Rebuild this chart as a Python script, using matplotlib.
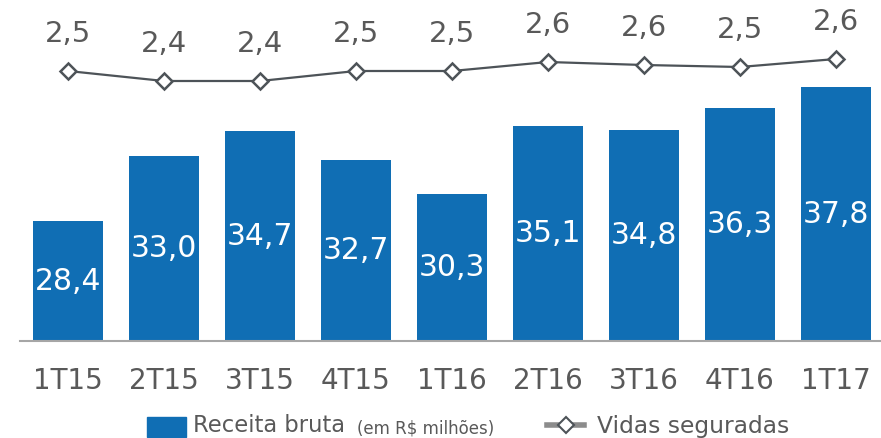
import matplotlib.pyplot as plt
import numpy as np
from matplotlib.patches import Rectangle
from matplotlib.lines import Line2D

# data
periods = ["1T15", "2T15", "3T15", "4T15", "1T16", "2T16", "3T16", "4T16", "1T17"]
receita = [28.4, 33.0, 34.7, 32.7, 30.3, 35.1, 34.8, 36.3, 37.8]
vidas = [2.50, 2.40, 2.40, 2.50, 2.50, 2.59, 2.56, 2.54, 2.62]

blue = "#106eb4"
grey = "#4d5358"
txt = "#595959"

plt.rcParams["font.family"] = ["DejaVu Sans"]

fig = plt.figure(figsize=(8.81, 4.38), dpi=100)
ax = fig.add_axes([20 / 881, 97 / 438, 861 / 881, 341 / 438])
x = np.arange(len(periods))

ax.bar(x, receita, width=0.73, color=blue, zorder=2)
for xi, v in zip(x, receita):
    ax.text(xi, 20 + (v - 20) / 2, f"{v:.1f}".replace(".", ","), ha="center", va="center",
            color="white", fontsize=21.5)

ax.set_xlim(-0.5, 8.47)
ax.set_ylim(20, 43.9)
ax.set_yticks([])
ax.set_xticks(x)
ax.set_xticklabels(periods, fontsize=20, color=txt)
ax.tick_params(axis="x", length=0, pad=19)
for s in ["top", "left", "right"]:
    ax.spines[s].set_visible(False)
ax.spines["bottom"].set_color("#a6a6a6")
ax.spines["bottom"].set_linewidth(1.5)
ax.patch.set_alpha(0)

ax2 = ax.twinx()
ax2.plot(x, vidas, color=grey, lw=1.6, marker="D", markersize=8, markerfacecolor="white",
         markeredgecolor=grey, markeredgewidth=1.8, zorder=3)
for xi, v in zip(x, vidas):
    ax2.annotate(f"{v:.1f}".replace(".", ","), (xi, v), xytext=(0, 26.5), textcoords="offset points",
                 ha="center", va="center", color=txt, fontsize=21)
ax2.set_ylim(-0.2, 3.21)
ax2.axis("off")

# legend drawn by hand to get the two font sizes
fig.add_artist(Rectangle((147 / 881, 1 - 437 / 438), 39 / 881, 20 / 438, transform=fig.transFigure,
                         color=blue))
fig.text(193 / 881, 1 - 426 / 438, "Receita bruta", fontsize=16.3, color=txt, va="center")
fig.text(357 / 881, 1 - 428 / 438, "(em R$ milhões)", fontsize=12, color=txt, va="center")
ly = 1 - 425 / 438
fig.add_artist(Line2D([547 / 881, 565.5 / 881, 584 / 881], [ly, ly, ly], transform=fig.transFigure,
                      color="#8c8c8c", lw=4, marker="D", markersize=8, markerfacecolor="white",
                      markeredgecolor=grey, markevery=[1], markeredgewidth=1.5))
fig.text(597 / 881, 1 - 426 / 438, "Vidas seguradas", fontsize=16.8, color=txt, va="center")

fig.savefig("out.png", dpi=100)
